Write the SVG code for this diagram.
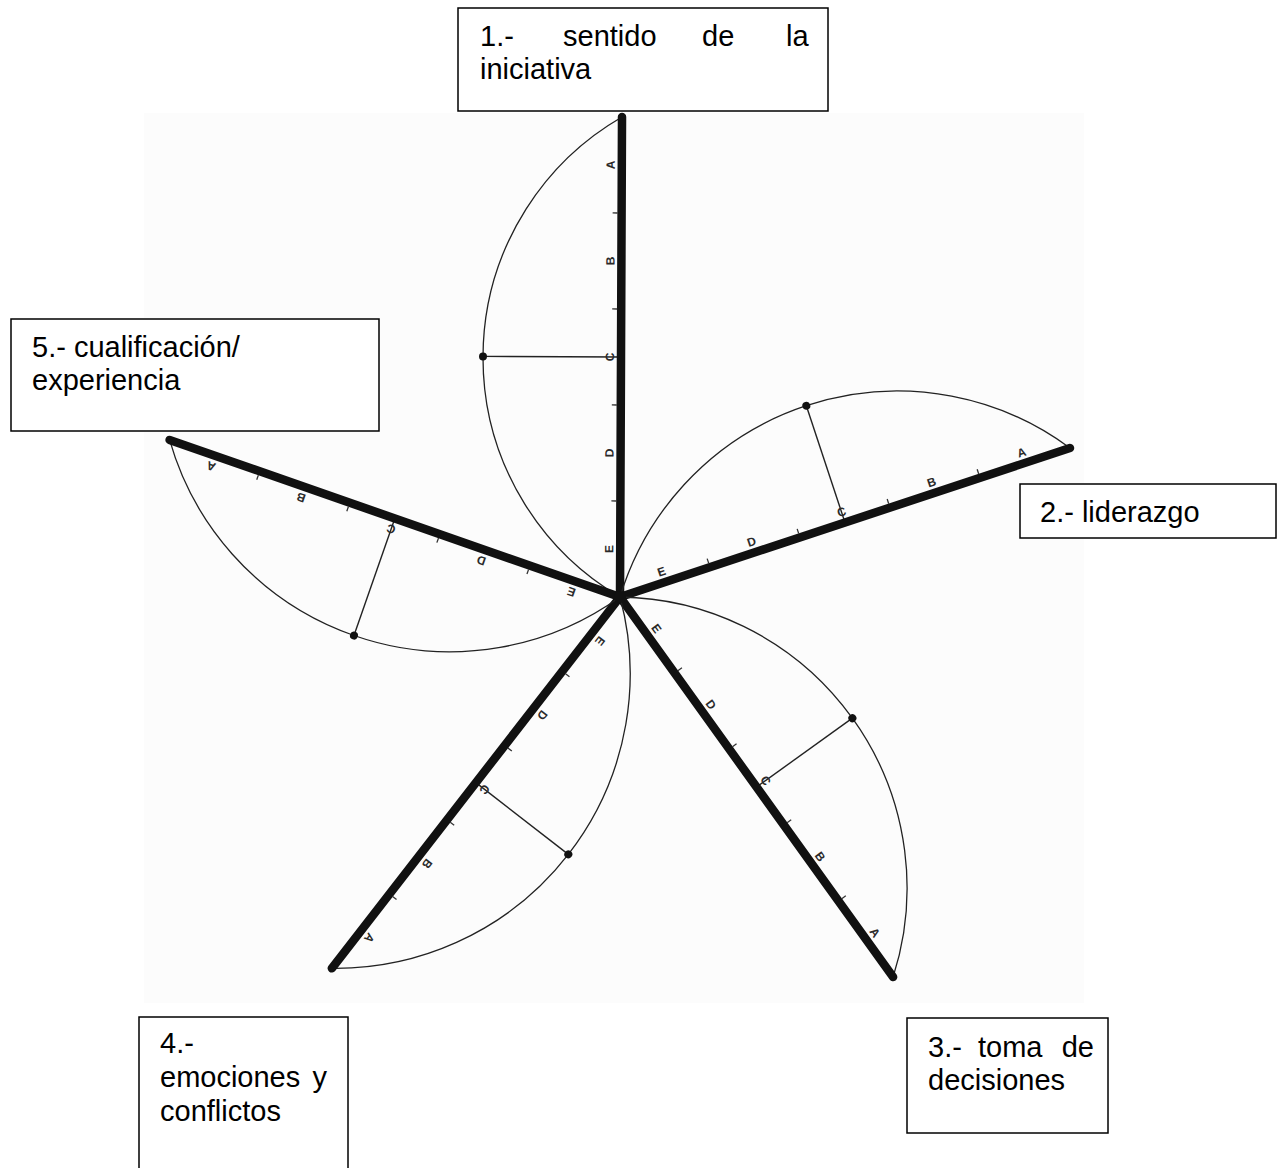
<svg xmlns="http://www.w3.org/2000/svg" width="1277" height="1168" viewBox="0 0 1277 1168">
<style>
.box{fill:#fff;stroke:#000;stroke-width:1.5}
.lbl{font-family:"Liberation Sans",Arial,sans-serif;font-size:29px;fill:#000}
.spoke{stroke:#111;stroke-width:8.5;stroke-linecap:round;fill:none}
.arc{stroke:#222;stroke-width:1.3;fill:none}
.perp{stroke:#222;stroke-width:1.4}
.tick{stroke:#333;stroke-width:1.3}
.dot{fill:#111}
.sc{font-family:"Liberation Sans",Arial,sans-serif;font-size:12px;font-weight:bold;fill:#2a2a2a;text-anchor:middle;dominant-baseline:central}
</style>
<rect x="0" y="0" width="1277" height="1168" fill="#fff"/>
<rect x="144" y="113" width="940" height="890" fill="#fcfcfc"/>
<g id="axes">
  <g id="axis-1" transform="translate(620,597) rotate(-89.76)">
    <path class="arc" d="M480 0 A277.7 277.7 0 0 0 0 0"/>
    <line class="perp" x1="240" y1="0" x2="240" y2="-138"/>
    <circle class="dot" cx="240" cy="-138" r="4"/>
    <line class="spoke" x1="0" y1="0" x2="480" y2="0"/>
    <g class="tick"><line x1="96" y1="-4" x2="96" y2="-9"/><line x1="192" y1="-4" x2="192" y2="-9"/><line x1="288" y1="-4" x2="288" y2="-9"/><line x1="384" y1="-4" x2="384" y2="-9"/></g>
    <text class="sc" x="432" y="-11">A</text><text class="sc" x="336" y="-11">B</text><text class="sc" x="240" y="-11">C</text><text class="sc" x="144" y="-11">D</text><text class="sc" x="48" y="-11">E</text>
  </g>
  <g id="axis-2" transform="translate(620,597) rotate(-18.32)">
    <path class="arc" d="M474 0 A289.8 289.8 0 0 0 0 0"/>
    <line class="perp" x1="237" y1="0" x2="237" y2="-123"/>
    <circle class="dot" cx="237" cy="-123" r="4"/>
    <line class="spoke" x1="0" y1="0" x2="474" y2="0"/>
    <g class="tick"><line x1="94.8" y1="-4" x2="94.8" y2="-9"/><line x1="189.6" y1="-4" x2="189.6" y2="-9"/><line x1="284.4" y1="-4" x2="284.4" y2="-9"/><line x1="379.2" y1="-4" x2="379.2" y2="-9"/></g>
    <text class="sc" x="426.6" y="-11">A</text><text class="sc" x="331.8" y="-11">B</text><text class="sc" x="237" y="-11">C</text><text class="sc" x="142.2" y="-11">D</text><text class="sc" x="47.4" y="-11">E</text>
  </g>
  <g id="axis-3" transform="translate(620,597) rotate(54.3)">
    <path class="arc" d="M468 0 A291 291 0 0 0 0 0"/>
    <line class="perp" x1="234" y1="0" x2="234" y2="-118"/>
    <circle class="dot" cx="234" cy="-118" r="4"/>
    <line class="spoke" x1="0" y1="0" x2="468" y2="0"/>
    <g class="tick"><line x1="93.6" y1="-4" x2="93.6" y2="-9"/><line x1="187.2" y1="-4" x2="187.2" y2="-9"/><line x1="280.8" y1="-4" x2="280.8" y2="-9"/><line x1="374.4" y1="-4" x2="374.4" y2="-9"/></g>
    <text class="sc" x="421.2" y="-11">A</text><text class="sc" x="327.6" y="-11">B</text><text class="sc" x="234" y="-11">C</text><text class="sc" x="140.4" y="-11">D</text><text class="sc" x="46.8" y="-11">E</text>
  </g>
  <g id="axis-4" transform="translate(620,597) rotate(127.82)">
    <path class="arc" d="M470 0 A294.5 294.5 0 0 0 0 0"/>
    <line class="perp" x1="235" y1="0" x2="235" y2="-117"/>
    <circle class="dot" cx="235" cy="-117" r="4"/>
    <line class="spoke" x1="0" y1="0" x2="470" y2="0"/>
    <g class="tick"><line x1="94" y1="-4" x2="94" y2="-9"/><line x1="188" y1="-4" x2="188" y2="-9"/><line x1="282" y1="-4" x2="282" y2="-9"/><line x1="376" y1="-4" x2="376" y2="-9"/></g>
    <text class="sc" x="423" y="-11">A</text><text class="sc" x="329" y="-11">B</text><text class="sc" x="235" y="-11">C</text><text class="sc" x="141" y="-11">D</text><text class="sc" x="47" y="-11">E</text>
  </g>
  <g id="axis-5" transform="translate(620,597) rotate(199.23)">
    <path class="arc" d="M477 0 A291.4 291.4 0 0 0 0 0"/>
    <line class="perp" x1="238.5" y1="0" x2="238.5" y2="-124"/>
    <circle class="dot" cx="238.5" cy="-124" r="4"/>
    <line class="spoke" x1="0" y1="0" x2="477" y2="0"/>
    <g class="tick"><line x1="95.4" y1="-4" x2="95.4" y2="-9"/><line x1="190.8" y1="-4" x2="190.8" y2="-9"/><line x1="286.2" y1="-4" x2="286.2" y2="-9"/><line x1="381.6" y1="-4" x2="381.6" y2="-9"/></g>
    <text class="sc" x="429.3" y="-11">A</text><text class="sc" x="333.9" y="-11">B</text><text class="sc" x="238.5" y="-11">C</text><text class="sc" x="143.1" y="-11">D</text><text class="sc" x="47.7" y="-11">E</text>
  </g>
  <circle id="centre" cx="620" cy="597" r="6" fill="#111"/>
</g>
<g id="box1">
  <rect class="box" x="458" y="8" width="370" height="103"/>
  <text class="lbl" y="46"><tspan x="480">1.-</tspan><tspan x="563">sentido</tspan><tspan x="702">de</tspan><tspan x="786">la</tspan></text>
  <text class="lbl" x="480" y="79">iniciativa</text>
</g>
<g id="box2">
  <rect class="box" x="1020" y="484" width="256" height="54"/>
  <text class="lbl" x="1040" y="522">2.- liderazgo</text>
</g>
<g id="box3">
  <rect class="box" x="907" y="1018" width="201" height="115"/>
  <text class="lbl" y="1057"><tspan x="928">3.-</tspan><tspan x="978">toma</tspan><tspan x="1094" text-anchor="end">de</tspan></text>
  <text class="lbl" x="928" y="1090">decisiones</text>
</g>
<g id="box4">
  <rect class="box" x="139" y="1017" width="209" height="170"/>
  <text class="lbl" x="160" y="1053">4.-</text>
  <text class="lbl" y="1087"><tspan x="160">emociones</tspan><tspan x="327" text-anchor="end">y</tspan></text>
  <text class="lbl" x="160" y="1121">conflictos</text>
</g>
<g id="box5">
  <rect class="box" x="11" y="319" width="368" height="112"/>
  <text class="lbl" x="32" y="357">5.- cualificación/</text>
  <text class="lbl" x="32" y="390">experiencia</text>
</g>
</svg>
